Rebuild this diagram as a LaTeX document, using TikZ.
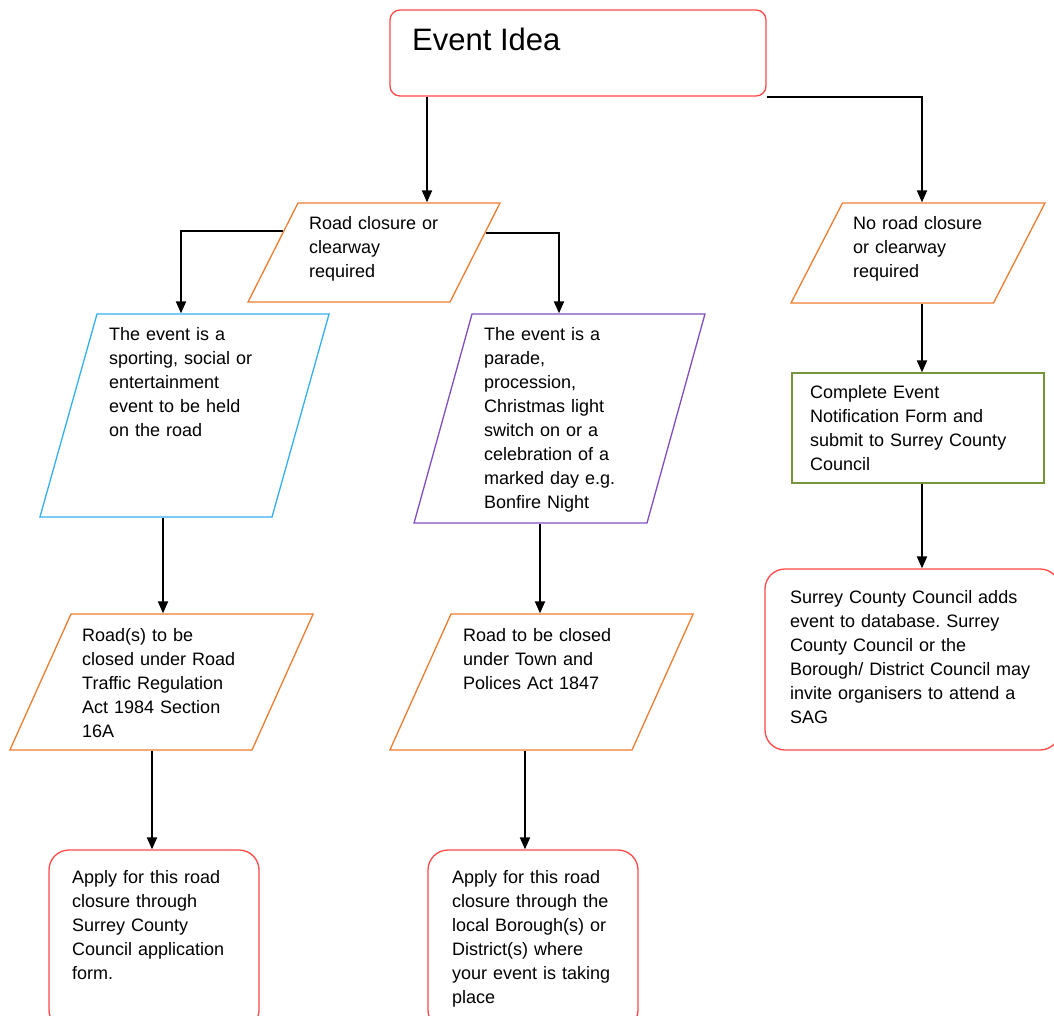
\documentclass[tikz,border=0pt]{standalone}
\usepackage{fontspec}
\setmainfont{Liberation Sans}
\usetikzlibrary{shapes.geometric,arrows.meta}
\frenchspacing

\definecolor{boxred}{RGB}{255,72,72}
\definecolor{boxorange}{RGB}{237,125,49}
\definecolor{boxblue}{RGB}{52,176,240}
\definecolor{boxpurple}{RGB}{128,78,190}
\definecolor{boxgreen}{RGB}{119,147,60}

\tikzset{
  txt/.style={anchor=base west, inner sep=0pt, align=left, text width=260pt,
    font=\fontsize{18}{24}\selectfont},
  para/.style={draw=#1, line width=1.3pt, trapezium},
  rbox/.style={draw=boxred, line width=1.3pt, rectangle, rounded corners=#1, inner sep=0pt},
  arr/.style={line width=2pt, -{Triangle[length=12pt,width=10pt]}},
}

\begin{document}
\begin{tikzpicture}[x=1pt, y=-1pt]
  \path[use as bounding box, fill=white] (0,0) rectangle (1054,1015);

  % boxes
  \node[rbox=10pt, minimum width=376pt, minimum height=86pt] (idea) at (578,53) {};
  \node[para=boxorange, trapezium left angle=63.2, trapezium right angle=116.8,
    inner xsep=76pt, inner ysep=49.5pt] (rc) at (374,252.5) {};
  \node[para=boxorange, trapezium left angle=62.75, trapezium right angle=117.25,
    inner xsep=75.5pt, inner ysep=50pt] (nrc) at (918,253) {};
  \node[para=boxblue, trapezium left angle=74.3, trapezium right angle=105.7,
    inner xsep=87.5pt, inner ysep=101.5pt] (sport) at (184.5,415.5) {};
  \node[para=boxpurple, trapezium left angle=74.5, trapezium right angle=105.5,
    inner xsep=87.5pt, inner ysep=104.5pt] (parade) at (559.5,418.5) {};
  \node[para=boxorange, trapezium left angle=65.8, trapezium right angle=114.2,
    inner xsep=90.5pt, inner ysep=68pt] (rtra) at (161.5,682) {};
  \node[para=boxorange, trapezium left angle=65.8, trapezium right angle=114.2,
    inner xsep=90.5pt, inner ysep=68pt] (tpa) at (541.5,682) {};
  \node[draw=boxgreen, line width=1.3pt, inner sep=0pt,
    minimum width=252pt, minimum height=110pt] (form) at (918,428) {};
  \node[rbox=20pt, minimum width=295pt, minimum height=181pt] (sag) at (912.5,659.5) {};
  \node[rbox=20pt, minimum width=210pt, minimum height=180pt] (apply1) at (154,940) {};
  \node[rbox=20pt, minimum width=210pt, minimum height=180pt] (apply2) at (533,940) {};

  % texts
  \node[anchor=base west, inner sep=0pt, font=\fontsize{31}{36}\selectfont] (tidea) at (412,50) {Event Idea};
  \node[txt] (trc) at (309,229) {Road closure or\\clearway\\required};
  \node[txt] (tnrc) at (853,229) {No road closure\\or clearway\\required};
  \node[txt] (tsport) at (109,340) {The event is a\\sporting, social or\\entertainment\\event to be held\\on the road};
  \node[txt] (tparade) at (484,340) {The event is a\\parade,\\procession,\\Christmas light\\switch on or a\\celebration of a\\marked day e.g.\\Bonfire Night};
  \node[txt] (trtra) at (82,641) {Road(s) to be\\closed under Road\\Traffic Regulation\\Act 1984 Section\\16A};
  \node[txt] (ttpa) at (463,641) {Road to be closed\\under Town and\\Polices Act 1847};
  \node[txt] (tform) at (810,398) {Complete Event\\Notification Form and\\submit to Surrey County\\Council};
  \node[txt] (tsag) at (790,603) {Surrey County Council adds\\event to database. Surrey\\County Council or the\\Borough/ District Council may\\invite organisers to attend a\\SAG};
  \node[txt] (tapply1) at (72,883) {Apply for this road\\closure through\\Surrey County\\Council application\\form.};
  \node[txt] (tapply2) at (452,883) {Apply for this road\\closure through the\\local Borough(s) or\\District(s) where\\your event is taking\\place};

  % connectors
  \draw[arr] (idea.south -| 427,0) -- (rc.north -| 427,0);
  \draw[arr] (idea.south east) -| (nrc.north -| 922,0);
  \draw[arr] (rc.167) -| (sport.north -| 181,0);
  \draw[arr] (rc.10) -| (parade.north -| 559,0);
  \draw[arr] (sport.south -| 163,0) -- (rtra.north -| 163,0);
  \draw[arr] (parade.south -| 540,0) -- (tpa.north -| 540,0);
  \draw[arr] (rtra.south -| 152,0) -- (apply1.north -| 152,0);
  \draw[arr] (tpa.south -| 525,0) -- (apply2.north -| 525,0);
  \draw[arr] (nrc.south -| 922,0) -- (form.north -| 922,0);
  \draw[arr] (form.south -| 922,0) -- (sag.north -| 922,0);
\end{tikzpicture}
\end{document}
